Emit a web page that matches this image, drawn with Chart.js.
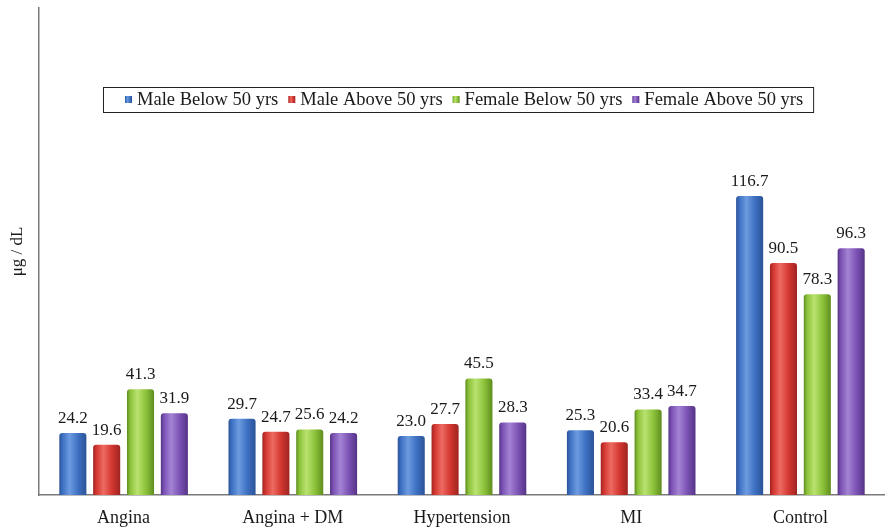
<!DOCTYPE html>
<html>
<head>
<meta charset="utf-8">
<script src="https://cdn.jsdelivr.net/npm/chart.js@4/dist/chart.umd.min.js"></script>
<style>
  html, body { margin: 0; padding: 0; background: #fff; }
  #wrap { width: 885px; height: 527px; }
</style>
</head>
<body>
<div id="wrap"><canvas id="c" width="885" height="527"></canvas></div>
<script>
// Group categories and series values (μg / dL)
const categories = ['Angina', 'Angina + DM', 'Hypertension', 'MI', 'Control'];
const seriesNames = ['Male Below 50 yrs', 'Male Above 50 yrs', 'Female Below 50 yrs', 'Female Above 50 yrs'];
const maleBelow50 = [24.2, 29.7, 23.0, 25.3, 116.7];
const maleAbove50 = [19.6, 24.7, 27.7, 20.6, 90.5];
const femaleBelow50 = [41.3, 25.6, 45.5, 33.4, 78.3];
const femaleAbove50 = [31.9, 24.2, 28.3, 34.7, 96.3];
const yAxisTitle = 'μg / dL';

// Shading for each series: [edge, base, highlight]
const shades = [
  ['#2b5296', '#3d70c2', '#6c9be0'],
  ['#9e2422', '#d2362f', '#ee6b62'],
  ['#5f8c1f', '#8cc23a', '#b9e26f'],
  ['#553386', '#7b52b4', '#a483d4']
];

const SERIF = "'Liberation Serif', 'Times New Roman', serif";

function glossGradient(ctx, x0, x1, s) {
  const g = ctx.createLinearGradient(x0, 0, x1, 0);
  g.addColorStop(0, s[0]);
  g.addColorStop(0.12, s[1]);
  g.addColorStop(0.38, s[2]);
  g.addColorStop(0.7, s[1]);
  g.addColorStop(1, s[0]);
  return g;
}

// Gives every bar its own horizontal gloss once the bars are placed
const glossPlugin = {
  id: 'gloss',
  beforeDatasetsDraw(chart) {
    const ctx = chart.ctx;
    chart.data.datasets.forEach((ds, i) => {
      const meta = chart.getDatasetMeta(i);
      meta.data.forEach(bar => {
        const half = bar.width / 2;
        bar.options.backgroundColor = glossGradient(ctx, bar.x - half, bar.x + half, shades[i]);
      });
    });
  }
};

// Value labels above each bar
const valueLabels = {
  id: 'valueLabels',
  afterDatasetsDraw(chart) {
    const ctx = chart.ctx;
    ctx.save();
    ctx.font = '17px ' + SERIF;
    ctx.fillStyle = '#1a1a1a';
    ctx.textAlign = 'center';
    ctx.textBaseline = 'alphabetic';
    chart.data.datasets.forEach((ds, i) => {
      chart.getDatasetMeta(i).data.forEach((bar, j) => {
        ctx.fillText(ds.data[j].toFixed(1), bar.x, bar.y - 10);
      });
    });
    ctx.restore();
  }
};

// Boxed legend placed inside the plot area
const boxLegend = {
  id: 'boxLegend',
  afterDraw(chart) {
    const ctx = chart.ctx;
    ctx.save();
    ctx.font = '18.5px ' + SERIF;
    const boxL = 103, boxT = 87, boxH = 25;
    const cy = boxT + boxH / 2;
    let x = 125;
    const items = chart.data.datasets.map((ds, i) => ({ label: ds.label, w: ctx.measureText(ds.label).width, i }));
    // measure first to size the box
    let end = x;
    items.forEach((it, k) => { end += 12 + it.w + (k < items.length - 1 ? 10 : 0); });
    const boxR = end + 10;
    ctx.fillStyle = '#fff';
    ctx.fillRect(boxL, boxT, boxR - boxL, boxH);
    ctx.strokeStyle = '#222';
    ctx.lineWidth = 1;
    ctx.strokeRect(boxL + 0.5, boxT + 0.5, boxR - boxL, boxH);
    ctx.textBaseline = 'middle';
    ctx.textAlign = 'left';
    items.forEach(it => {
      ctx.fillStyle = glossGradient(ctx, x, x + 7, shades[it.i]);
      ctx.fillRect(x, cy - 3.5, 7, 7);
      ctx.fillStyle = '#1a1a1a';
      ctx.fillText(it.label, x + 12, cy + 1);
      x += 12 + it.w + 10;
    });
    ctx.restore();
  }
};

const seriesValues = [maleBelow50, maleAbove50, femaleBelow50, femaleAbove50];

new Chart(document.getElementById('c'), {
  type: 'bar',
  data: {
    labels: categories,
    datasets: seriesValues.map((vals, i) => ({
      label: seriesNames[i],
      data: vals,
      // scriptable so each bar keeps its own option object
      backgroundColor: (ctx) => shades[ctx.datasetIndex][1],
      borderWidth: 0,
      borderRadius: 3,
      categoryPercentage: 0.8,
      barPercentage: 0.8
    }))
  },
  options: {
    responsive: false,
    animation: false,
    devicePixelRatio: 1,
    layout: { padding: { top: 8, right: 0, bottom: 0, left: 0 } },
    plugins: {
      legend: { display: false },
      tooltip: { enabled: false }
    },
    scales: {
      x: {
        grid: { display: false, drawTicks: false },
        border: { display: true, color: '#7a7a7a', width: 1.5 },
        ticks: { color: '#1a1a1a', font: { family: SERIF, size: 18 }, padding: 12, maxRotation: 0 },
        afterFit(scale) { scale.height = 32; }
      },
      y: {
        min: 0,
        max: 190,
        grid: { display: false, drawTicks: false },
        border: { display: true, color: '#7a7a7a', width: 1.5 },
        ticks: { display: false },
        title: {
          display: true,
          text: yAxisTitle,
          color: '#1a1a1a',
          font: { family: SERIF, size: 17 },
          padding: { top: 7, bottom: 0 }
        },
        afterFit(scale) { scale.width = 39; }
      }
    }
  },
  plugins: [glossPlugin, valueLabels, boxLegend]
});
</script>
</body>
</html>
